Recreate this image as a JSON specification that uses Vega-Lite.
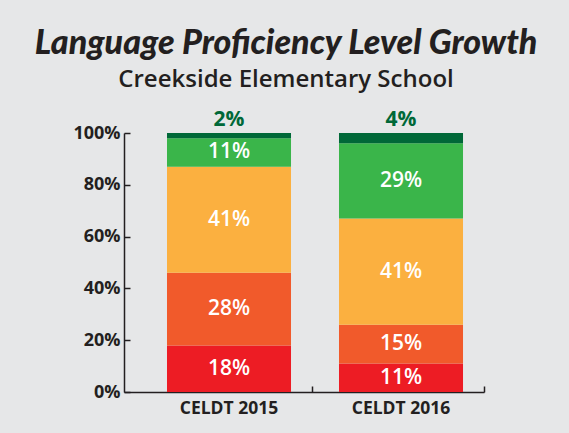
{
  "$schema": "https://vega.github.io/schema/vega-lite/v6.json",
  "width": 360,
  "height": 259,
  "autosize": "none",
  "padding": {"left": 124, "top": 133, "right": 85, "bottom": 41},
  "background": "#e6e7e8",
  "config": {"view": {"stroke": null}},
  "title": {
    "text": "Language Proficiency Level Growth",
    "subtitle": "Creekside Elementary School",
    "anchor": "middle",
    "dx": -18,
    "offset": 17,
    "font": "Lato",
    "fontSize": 34,
    "fontStyle": "italic",
    "fontWeight": 900,
    "color": "#231f20",
    "subtitleFont": "Open Sans",
    "subtitleFontSize": 24,
    "subtitleFontWeight": 600,
    "subtitleColor": "#231f20",
    "subtitlePadding": 7
  },
  "data": {
    "values": [
      {"test": "CELDT 2015", "level": "Beginning", "rank": 1, "value": 18},
      {"test": "CELDT 2015", "level": "Early Intermediate", "rank": 2, "value": 28},
      {"test": "CELDT 2015", "level": "Intermediate", "rank": 3, "value": 41},
      {"test": "CELDT 2015", "level": "Early Advanced", "rank": 4, "value": 11},
      {"test": "CELDT 2015", "level": "Advanced", "rank": 5, "value": 2},
      {"test": "CELDT 2016", "level": "Beginning", "rank": 1, "value": 11},
      {"test": "CELDT 2016", "level": "Early Intermediate", "rank": 2, "value": 15},
      {"test": "CELDT 2016", "level": "Intermediate", "rank": 3, "value": 41},
      {"test": "CELDT 2016", "level": "Early Advanced", "rank": 4, "value": 29},
      {"test": "CELDT 2016", "level": "Advanced", "rank": 5, "value": 4}
    ]
  },
  "transform": [
    {"stack": "value", "groupby": ["test"], "sort": [{"field": "rank", "order": "ascending"}], "as": ["v0", "v1"]},
    {"calculate": "(datum.v0 + datum.v1) / 2", "as": "mid"},
    {"calculate": "datum.value + '%'", "as": "label"}
  ],
  "encoding": {
    "x": {
      "field": "test",
      "type": "nominal",
      "scale": {"paddingInner": 0.279, "paddingOuter": 0.186, "align": 0.672},
      "axis": {
        "title": null,
        "labelAngle": 0,
        "labelFont": "Open Sans",
        "labelFontSize": 17.5,
        "labelFontWeight": "bold",
        "labelColor": "#231f20",
        "labelPadding": 13,
        "domainColor": "#231f20",
        "domainWidth": 1.5,
        "tickColor": "#231f20",
        "tickWidth": 1.5,
        "tickSize": -6,
        "bandPosition": 1.17
      }
    }
  },
  "layer": [
    {
      "mark": {"type": "bar"},
      "encoding": {
        "y": {
          "field": "v0",
          "type": "quantitative",
          "scale": {"domain": [0, 100]},
          "axis": {
            "title": null,
            "values": [0, 20, 40, 60, 80, 100],
            "labelExpr": "datum.value + '%'",
            "grid": false,
            "labelFont": "Open Sans",
            "labelFontSize": 18,
            "labelFontWeight": "bold",
            "labelColor": "#231f20",
            "labelPadding": 10,
            "domainColor": "#231f20",
            "domainWidth": 1.5,
            "tickColor": "#231f20",
            "tickWidth": 1.5,
            "tickSize": -6
          }
        },
        "y2": {"field": "v1"},
        "color": {
          "field": "level",
          "type": "nominal",
          "scale": {
            "domain": ["Beginning", "Early Intermediate", "Intermediate", "Early Advanced", "Advanced"],
            "range": ["#ed1c24", "#f15a2b", "#fbb040", "#3ab54a", "#006838"]
          },
          "legend": null
        }
      }
    },
    {
      "transform": [{"filter": "datum.rank < 5"}],
      "mark": {"type": "text", "color": "white", "font": "Open Sans", "fontSize": 21, "fontWeight": 600, "baseline": "middle"},
      "encoding": {
        "y": {"field": "mid", "type": "quantitative"},
        "text": {"field": "label"}
      }
    },
    {
      "transform": [{"filter": "datum.rank == 5"}],
      "mark": {"type": "text", "color": "#006838", "font": "Open Sans", "fontSize": 21, "fontWeight": "bold", "baseline": "middle", "dy": -13},
      "encoding": {
        "y": {"field": "v1", "type": "quantitative"},
        "text": {"field": "label"}
      }
    }
  ]
}
